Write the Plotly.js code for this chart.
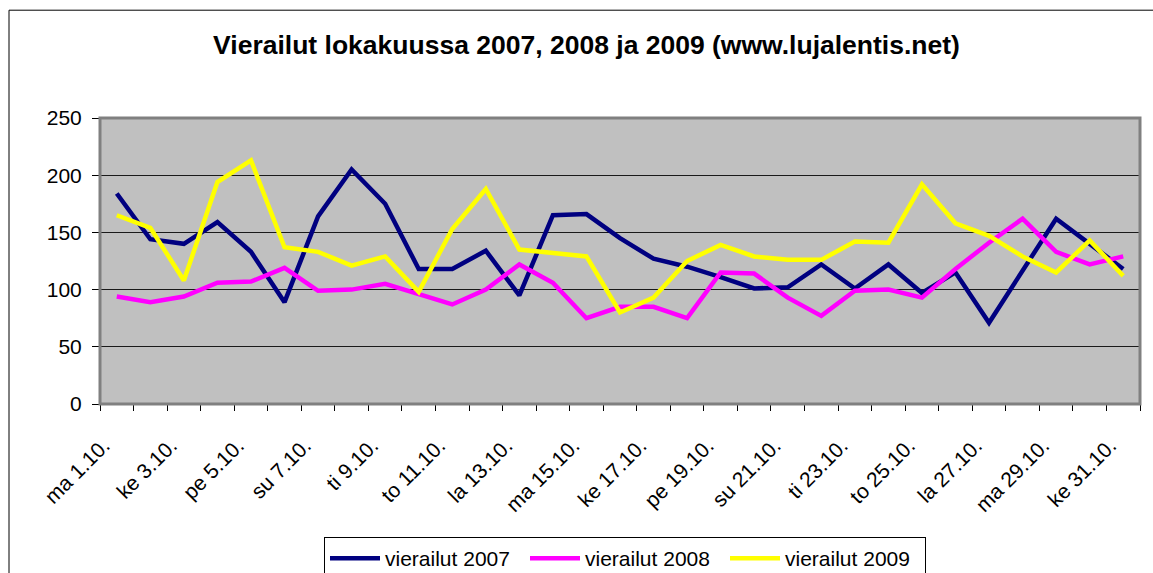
<!DOCTYPE html>
<html>
<head>
<meta charset="utf-8">
<script src="https://cdn.plot.ly/plotly-3.0.1.min.js"></script>
<style>
html,body{margin:0;padding:0;background:#fff;}
#chart{width:1153px;height:573px;}
</style>
</head>
<body>
<div id="chart"></div>
<script>
const days = ["ma 1.10.","ti 2.10.","ke 3.10.","to 4.10.","pe 5.10.","la 6.10.","su 7.10.",
  "ma 8.10.","ti 9.10.","ke 10.10.","to 11.10.","pe 12.10.","la 13.10.","su 14.10.",
  "ma 15.10.","ti 16.10.","ke 17.10.","to 18.10.","pe 19.10.","la 20.10.","su 21.10.",
  "ma 22.10.","ti 23.10.","ke 24.10.","to 25.10.","pe 26.10.","la 27.10.","su 28.10.",
  "ma 29.10.","ti 30.10.","ke 31.10."];
const tickLabels = ["ma 1.10.","","ke 3.10.","","pe 5.10.","","su 7.10.","","ti 9.10.","",
  "to 11.10.","","la 13.10.","","ma 15.10.","","ke 17.10.","","pe 19.10.","","su 21.10.","",
  "ti 23.10.","","to 25.10.","","la 27.10.","","ma 29.10.","","ke 31.10."];
const seriesNames = ["vierailut 2007","vierailut 2008","vierailut 2009"];
const v2007 = [184,144,140,159,133,89,164,205,175,118,118,134,95,165,166,145,127,120,111,101,102,122,101,122,97,115,71,117,162,140,118];
const v2008 = [94,89,94,106,107,119,99,100,105,96,87,100,122,106,75,85,85,75,115,114,93,77,99,100,93,118,141,162,133,122,129];
const v2009 = [165,154,108,194,213,137,133,121,129,98,153,188,135,132,129,80,93,125,139,129,126,126,142,141,192,158,147,129,115,143,112];
const colors = ["#000080","#FF00FF","#FFFF00"];

const W = 1153, H = 573;
const L = 100, R = 1140, T = 118, B = 404.5;
const pw = R - L, ph = B - T;
const px = v => (v - L) / pw;
const py = v => (B - v) / ph;

const traces = [v2007, v2008, v2009].map((vals, i) => ({
  type: "scatter", mode: "lines", x: days, y: vals, name: seriesNames[i],
  line: {color: colors[i], width: 4.5}, hoverinfo: "skip"
}));

const font = "Liberation Sans, Arial, sans-serif";
const layout = {
  width: W, height: H,
  margin: {l: L, r: W - R, t: T, b: H - B, pad: 0},
  paper_bgcolor: "#ffffff", plot_bgcolor: "#C0C0C0",
  showlegend: true,
  title: {
    text: "<b>Vierailut lokakuussa 2007, 2008 ja 2009 (www.lujalentis.net)</b>",
    font: {family: font, size: 26.5, color: "#000"},
    xref: "container", x: 586.5 / W, xanchor: "center",
    yref: "container", y: 1 - 45 / H, yanchor: "middle"
  },
  xaxis: {
    type: "category", tickmode: "array", tickvals: days, ticktext: tickLabels,
    tickson: "boundaries", ticks: "outside", ticklen: 6, tickcolor: "#000", tickwidth: 1,
    tickangle: -45, tickfont: {family: font, size: 21, color: "#000"},
    ticklabelstandoff: 20, ticklabelshift: -13,
    showline: true, linecolor: "#000", linewidth: 1, showgrid: false, zeroline: false,
    range: [-0.5, 30.5], fixedrange: true
  },
  yaxis: {
    range: [0, 250], tickvals: [0, 50, 100, 150, 200, 250],
    ticks: "outside", ticklen: 7, tickcolor: "#000", tickwidth: 1,
    tickfont: {family: font, size: 21, color: "#000"},
    showline: true, linecolor: "#000", linewidth: 1,
    showgrid: true, gridcolor: "#1a1a1a", gridwidth: 1, zeroline: false,
    ticklabelstandoff: 6, fixedrange: true
  },
  legend: {
    orientation: "h", xref: "container", yref: "container",
    x: 324 / W, xanchor: "left", y: 1 - 537 / H, yanchor: "top",
    bgcolor: "#fff", bordercolor: "#000", borderwidth: 1,
    font: {family: font, size: 21, color: "#000"},
    itemwidth: 50, entrywidth: 135, entrywidthmode: "pixels", tracegroupgap: 0
  },
  shapes: [
    {type: "rect", xref: "paper", yref: "paper", x0: 0, x1: 1, y0: 0, y1: 1,
     line: {color: "#808080", width: 3}, layer: "above"},
    {type: "rect", xref: "paper", yref: "paper",
     x0: px(9), x1: px(1165), y0: py(585), y1: py(10),
     line: {color: "#000", width: 1}, layer: "below"}
  ]
};

Plotly.newPlot("chart", traces, layout, {staticPlot: true, displayModeBar: false});
</script>
</body>
</html>
